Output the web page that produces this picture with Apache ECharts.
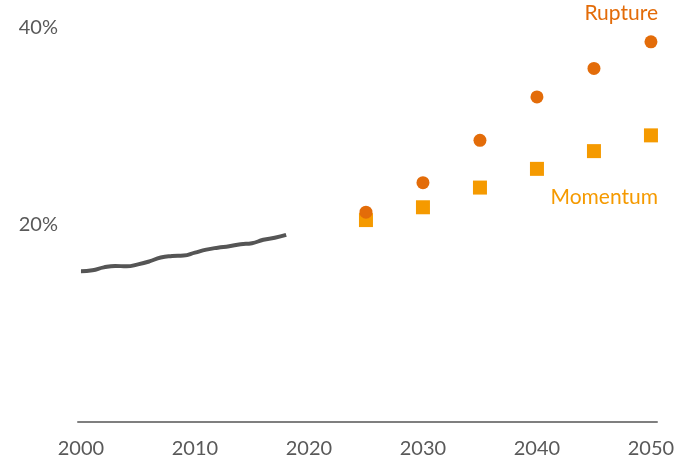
<!DOCTYPE html>
<html>
<head>
<meta charset="utf-8">
<script src="https://cdn.jsdelivr.net/npm/echarts@6/dist/echarts.min.js"></script>
<style>
  html, body { margin: 0; padding: 0; background: #fff; }
  #chart { width: 688px; height: 461px; }
</style>
</head>
<body>
<div id="chart"></div>
<script>
// Historical share, 2000–2018 (%)
const histYears = [2000, 2001, 2002, 2003, 2004, 2005, 2006, 2007, 2008, 2009,
                   2010, 2011, 2012, 2013, 2014, 2015, 2016, 2017, 2018];
const histValues = [15.3, 15.4, 15.7, 15.85, 15.8, 16.0, 16.3, 16.7, 16.85, 16.9,
                    17.2, 17.5, 17.7, 17.85, 18.05, 18.15, 18.5, 18.7, 19.0];

// Scenario projections (%)
const projYears = [2025, 2030, 2035, 2040, 2045, 2050];
const ruptureValues = [21.3, 24.3, 28.6, 33.0, 35.9, 38.6];
const momentumValues = [20.5, 21.8, 23.8, 25.7, 27.5, 29.1];

// Axis ticks
const xTicks = [2000, 2010, 2020, 2030, 2040, 2050];
const yTicks = [20, 40];

const FONT = 'Lato, "Open Sans", sans-serif';
const RUPTURE_COLOR = '#E36C09';
const MOMENTUM_COLOR = '#F59A00';

const pair = (xs, ys) => xs.map((x, i) => [x, ys[i]]);

const chart = echarts.init(document.getElementById('chart'), null, { renderer: 'canvas' });
chart.setOption({
  animation: false,
  grid: { left: 78, right: 31, top: 28, bottom: 39 },
  xAxis: {
    type: 'value',
    min: 1999.74,
    max: 2050.53,
    axisLine: { show: true, lineStyle: { color: '#7f7f7f', width: 2 } },
    axisTick: { show: false },
    splitLine: { show: false },
    axisLabel: {
      customValues: xTicks,
      formatter: v => String(Math.round(v)),
      color: '#595959',
      fontFamily: FONT,
      fontSize: 20,
      margin: 17
    }
  },
  yAxis: {
    type: 'value',
    min: 0,
    max: 40,
    axisLine: { show: false },
    axisTick: { show: false },
    splitLine: { show: false },
    axisLabel: {
      customValues: yTicks,
      formatter: v => v + '%',
      color: '#595959',
      fontFamily: FONT,
      fontSize: 20,
      margin: 20
    }
  },
  series: [
    {
      name: 'Historique',
      type: 'line',
      data: pair(histYears, histValues),
      smooth: true,
      showSymbol: false,
      lineStyle: { color: '#555555', width: 4 },
      z: 2
    },
    {
      name: 'Momentum',
      type: 'scatter',
      data: pair(projYears, momentumValues),
      symbol: 'rect',
      symbolSize: 14,
      itemStyle: { color: MOMENTUM_COLOR, opacity: 1 },
      z: 3
    },
    {
      name: 'Rupture',
      type: 'scatter',
      data: pair(projYears, ruptureValues),
      symbol: 'circle',
      symbolSize: 13,
      itemStyle: { color: RUPTURE_COLOR, opacity: 1 },
      z: 4
    }
  ],
  graphic: [
    {
      type: 'text',
      right: 30,
      top: 3,
      style: { text: 'Rupture', fill: RUPTURE_COLOR, font: '21px ' + FONT }
    },
    {
      type: 'text',
      right: 30,
      top: 187,
      style: { text: 'Momentum', fill: MOMENTUM_COLOR, font: '21px ' + FONT }
    }
  ]
});
</script>
</body>
</html>
